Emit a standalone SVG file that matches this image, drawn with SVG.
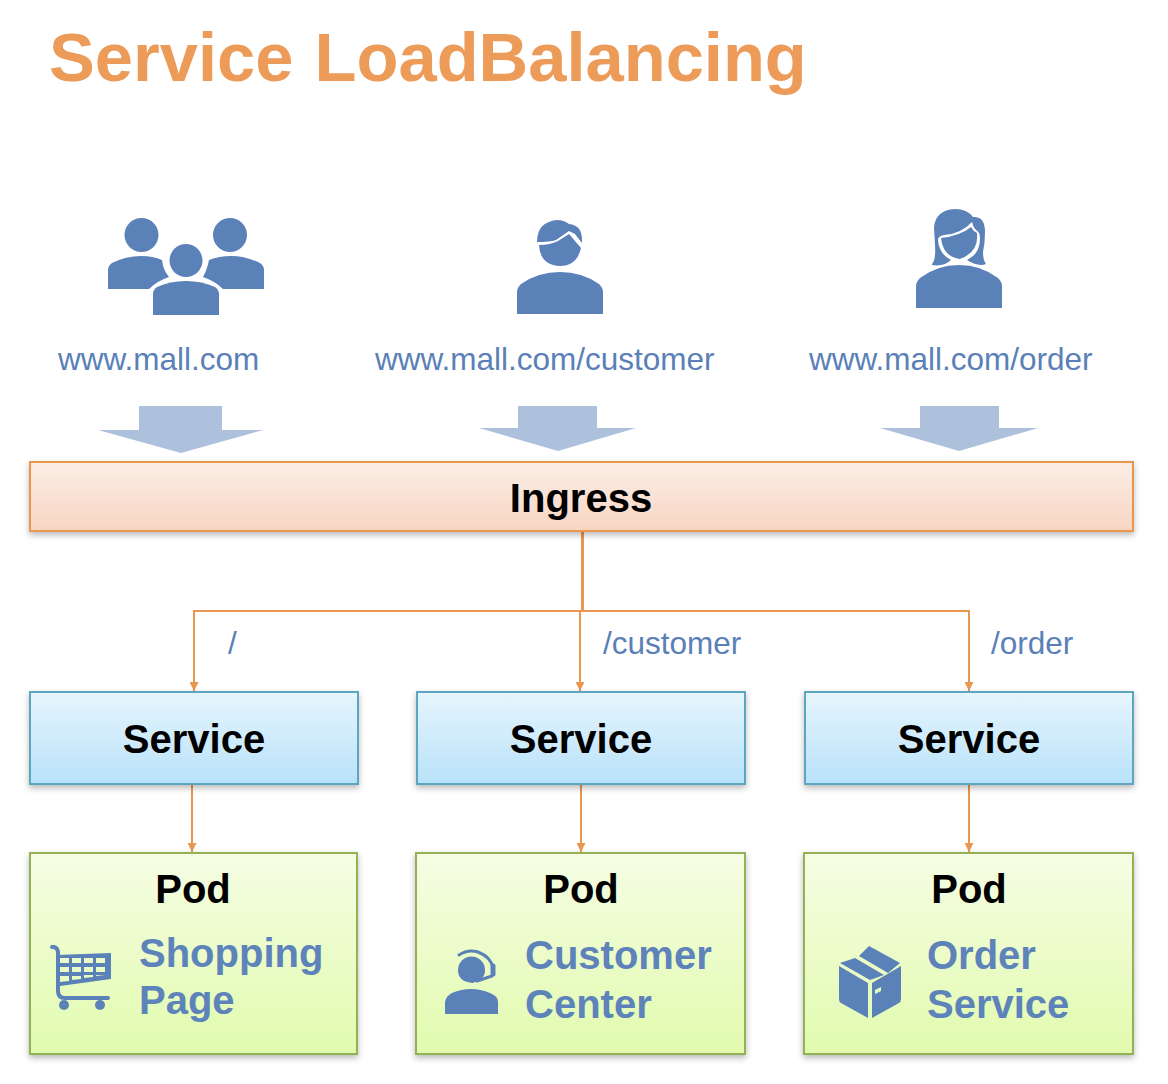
<svg xmlns="http://www.w3.org/2000/svg" width="1168" height="1084" viewBox="0 0 1168 1084">
<defs>
<linearGradient id="gi" x1="0" y1="0" x2="0" y2="1"><stop offset="0" stop-color="#fbeee6"/><stop offset="1" stop-color="#f8d5c2"/></linearGradient>
<linearGradient id="gs" x1="0" y1="0" x2="0" y2="1"><stop offset="0" stop-color="#e6f5fd"/><stop offset="1" stop-color="#b9e2fa"/></linearGradient>
<linearGradient id="gp" x1="0" y1="0" x2="0" y2="1"><stop offset="0" stop-color="#f6fde4"/><stop offset="1" stop-color="#e1fbae"/></linearGradient>
<filter id="sh" x="-5%" y="-10%" width="110%" height="125%"><feDropShadow dx="0" dy="3" stdDeviation="3" flood-color="#000" flood-opacity="0.28"/></filter>
<marker id="ah" markerUnits="userSpaceOnUse" markerWidth="10" markerHeight="9" refX="9" refY="4.5" orient="auto"><path d="M0 0L9 4.5L0 9Z" fill="#e9964f"/></marker>
</defs>
<style>
text{font-family:"Liberation Sans",Arial,sans-serif}
.title{font-size:68.700px;font-weight:700;fill:#ec9b58}
.url{font-size:31.500px;fill:#5a80b8}
.path{font-size:31.500px;fill:#5a80b8}
.b{font-size:40px;font-weight:700;fill:#000;text-anchor:middle}
.pl{font-size:40px;font-weight:700;fill:#5d83ba}
.ic{fill:#5b81b9}
.arr{fill:#adc1dc}
.c{fill:none;stroke:#e9964f;stroke-width:2}
.ing{fill:url(#gi);stroke:#e9964f;stroke-width:2;filter:url(#sh)}
.svc{fill:url(#gs);stroke:#5ba6bf;stroke-width:2;filter:url(#sh)}
.pod{fill:url(#gp);stroke:#93b257;stroke-width:2;filter:url(#sh)}
</style>
<text class="title" x="49" y="81" word-spacing="2">Service LoadBalancing</text>
<g id="users-group">
<circle class="ic" cx="141.500" cy="235" r="17"/><circle class="ic" cx="230" cy="235" r="17"/>
<path class="ic" d="M108 289V270Q108 266 112 263Q126 256 141 256Q153 256 162 260Q163 270 169 277Q157 281 149 289Z"/>
<path class="ic" d="M264 289V270Q264 266 260 263Q246 256 231 256Q219 256 209 260Q207 270 203 277Q215 281 223 289Z"/>
<circle class="ic" cx="186" cy="260.500" r="16.500"/>
<path class="ic" d="M153 315V294Q153 290 157 287Q170 281 186 281Q202 281 215 287Q219 290 219 294V315Z"/>
<text class="url" x="58" y="370">www.mall.com</text>
<path class="arr" d="M139 406H222V430H263L181 453L98 430H139Z"/>
</g>
<g id="customer-group">
<path class="ic" d="M537 242Q537 222 557 220Q564 220 569 224Q582 225 582 240V243L575 234L569 231L556 240Q550 242 537 242Z"/>
<path class="ic" d="M539 245Q550 245 558 241L569 234L581 248Q577 266 560 266Q540 265 539 245Z"/>
<path class="ic" d="M517 314V292Q517 288 521 284Q538 272 560 272Q582 272 599 284Q603 288 603 292V314Z"/>
<text class="url" x="375" y="370">www.mall.com/customer</text>
<path class="arr" d="M518 406H597V428H636L558 451L479 428H518Z"/>
</g>
<g id="order-group">
<path class="ic" d="M932 264Q936 260 935 245L934 228Q935 210 955 209Q967 209 973 217Q985 216 985 232Q985 243 983 252Q983 260 986 264Q978 267 967 260L973 256Q980 250 980 238Q980 232 976 230Q973 227 972 222Q961 234 944 235Q938 236 938 240Q939 254 951 260Q944 267 932 265Z"/>
<path class="ic" d="M941 238Q960 236 971 227Q973 231 977 233Q979 252 960 259Q943 257 941 238Z"/>
<path class="ic" d="M916 308V286Q916 282 920 278Q937 265 959 265Q981 265 998 278Q1002 282 1002 286V308Z"/>
<text class="url" x="809" y="370">www.mall.com/order</text>
<path class="arr" d="M920 406H999V428H1038L959 451L880 428H920Z"/>
</g>
<g id="connectors">
<path class="c" style="stroke-width:3" d="M582.500 531V611"/>
<path class="c" d="M580 611H194V691" marker-end="url(#ah)"/>
<path class="c" d="M580 611V691" marker-end="url(#ah)"/>
<path class="c" d="M580 611H969V691" marker-end="url(#ah)"/>
<path class="c" d="M192 784V852" marker-end="url(#ah)"/>
<path class="c" d="M581 784V852" marker-end="url(#ah)"/>
<path class="c" d="M969 784V852" marker-end="url(#ah)"/>
</g>
<text class="path" x="228" y="654">/</text>
<text class="path" x="603" y="654">/customer</text>
<text class="path" x="991" y="654">/order</text>
<g id="ingress"><rect class="ing" x="30" y="462" width="1103" height="69"/><text class="b" x="581" y="512">Ingress</text></g>
<g id="service-1"><rect class="svc" x="30" y="692" width="328" height="92"/><text class="b" x="194" y="753">Service</text></g>
<g id="service-2"><rect class="svc" x="417" y="692" width="328" height="92"/><text class="b" x="581" y="753">Service</text></g>
<g id="service-3"><rect class="svc" x="805" y="692" width="328" height="92"/><text class="b" x="969" y="753">Service</text></g>
<g id="pod-1"><rect class="pod" x="30" y="853" width="327" height="201"/><text class="b" x="193" y="903">Pod</text>
<path class="ic" fill-rule="evenodd" d="M56 955L111 953V979L60 986V955ZM60 958V963H69V958ZM72 958V963H81V958ZM84 958V963H93V958ZM96 958V963H105V958ZM60 967V972H69V967ZM72 967V972H81V967ZM84 967V972H93V967ZM96 967V972H105V967ZM60 976V982L69 981V976ZM72 976V980L81 979V976ZM84 975V978L93 977V975ZM96 975V976L105 975Z"/>
<path fill="none" stroke="#5b81b9" stroke-width="4" stroke-linecap="round" d="M52 947H54Q58 948 58 953V991Q58 998 65 998H108"/>
<circle class="ic" cx="64" cy="1005" r="5"/><circle class="ic" cx="100" cy="1005" r="5"/>
<text class="pl" x="139" y="967">Shopping</text><text class="pl" x="139" y="1014">Page</text></g>
<g id="pod-2"><rect class="pod" x="416" y="853" width="329" height="201"/><text class="b" x="581" y="903">Pod</text>
<path class="ic" d="M458 970A13.500 13.500 0 0 1 485 970Q485 976 481 979L473 983Q458 982 458 970Z"/>
<path fill="none" stroke="#5b81b9" stroke-width="3" stroke-linecap="round" d="M459 955Q468 949 478 952Q491 957 493 968"/>
<path fill="none" stroke="#5b81b9" stroke-width="5" stroke-linecap="round" d="M493 966V974"/>
<path fill="none" stroke="#5b81b9" stroke-width="3" stroke-linecap="round" d="M492 976L477 981"/>
<path class="ic" d="M445 1014V1002Q446 996 452 993Q471 985 490 993Q498 996 498 1002V1014Z"/>
<text class="pl" x="525" y="969">Customer</text><text class="pl" x="525" y="1018">Center</text></g>
<g id="pod-3"><rect class="pod" x="804" y="853" width="329" height="201"/><text class="b" x="969" y="903">Pod</text>
<path class="ic" d="M839 966L868 983V1018L841 1003Q839 1002 839 999Z"/>
<path class="ic" fill-rule="evenodd" d="M901 966V999Q901 1002 899 1003L872 1018V983ZM875 990V994L881 991V987Z"/>
<path class="ic" d="M855 958L884 975L870 980L840 963Z"/>
<path class="ic" d="M869 946L900 963L888 973L859 956Z"/>
<text class="pl" x="927" y="969">Order</text><text class="pl" x="927" y="1018">Service</text></g>
</svg>
